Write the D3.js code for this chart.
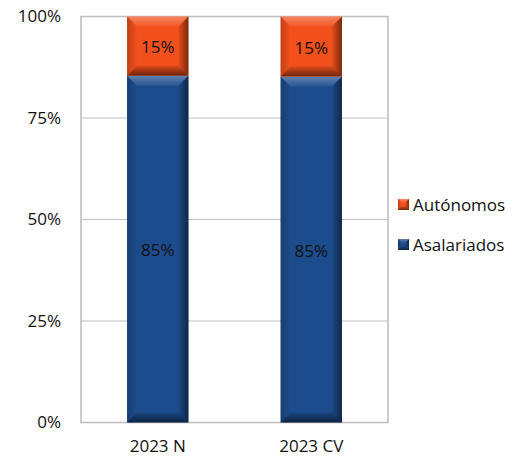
<!DOCTYPE html>
<html><head><meta charset="utf-8">
<script src="https://cdn.jsdelivr.net/npm/d3@7"></script>
<style>body{margin:0;background:#fff}svg{display:block}text{font-family:"Open Sans","Noto Sans",sans-serif}</style>
</head><body>
<svg id="c" width="521" height="464"></svg>
<script>
const categories = ["2023 N", "2023 CV"];
const asalariados = [0.854, 0.852];
const autonomos = [0.146, 0.148];
const seriesNames = ["Asalariados", "Autónomos"];
const seriesColors = ["#1D4C8C", "#F2501C"];
const yTicks = [0, 0.25, 0.5, 0.75, 1];

const svg = d3.select("#c");
const defs = svg.append("defs");
const gradSpec = [
  {id: "gT", x1: 0, y1: 0, x2: 0, y2: 1, c: "#fff", o0: 0.3, o1: 0.05},
  {id: "gB", x1: 0, y1: 1, x2: 0, y2: 0, c: "#000", o0: 0.55, o1: 0.1},
  {id: "gL", x1: 0, y1: 0, x2: 1, y2: 0, c: "#000", o0: 0.2, o1: 0.0},
  {id: "gR", x1: 1, y1: 0, x2: 0, y2: 0, c: "#000", o0: 0.5, o1: 0.05}
];
gradSpec.forEach(g => {
  const lg = defs.append("linearGradient").attr("id", g.id)
    .attr("x1", g.x1).attr("y1", g.y1).attr("x2", g.x2).attr("y2", g.y2);
  lg.append("stop").attr("offset", 0).attr("stop-color", g.c).attr("stop-opacity", g.o0);
  lg.append("stop").attr("offset", 1).attr("stop-color", g.c).attr("stop-opacity", g.o1);
});

const m = {l: 81, r: 388, t: 16.5, b: 422.5};
const x = d3.scaleBand().domain(categories).range([m.l, m.r]).paddingInner(0.6).paddingOuter(0.3);
const y = d3.scaleLinear().domain([0, 1]).range([m.b, m.t]);

svg.append("g").selectAll("line").data(yTicks).join("line")
  .attr("x1", m.l).attr("x2", m.r).attr("y1", d => y(d)).attr("y2", d => y(d))
  .attr("stroke", "#C0C0C0").attr("stroke-width", 1.2);
svg.append("rect").attr("x", m.l).attr("y", m.t).attr("width", m.r - m.l).attr("height", m.b - m.t)
  .attr("fill", "none").attr("stroke", "#BFBFBF").attr("stroke-width", 1.6);

const yAxis = d3.axisLeft(y).tickValues(yTicks).tickFormat(d3.format(".0%")).tickSize(0).tickPadding(20);
const ga = svg.append("g").attr("transform", `translate(${m.l},0)`).call(yAxis);
ga.select(".domain").remove();
ga.selectAll("text").attr("font-size", 17).attr("fill", "#111").style("font-family", '"Open Sans",sans-serif');

const xAxis = d3.axisBottom(x).tickSize(0).tickPadding(17);
const gx = svg.append("g").attr("transform", `translate(0,${m.b})`).call(xAxis);
gx.select(".domain").remove();
gx.selectAll("text").attr("font-size", 17).attr("fill", "#111").style("font-family", '"Open Sans",sans-serif');

const stackData = categories.map((c, i) => ({cat: c, Asalariados: asalariados[i], "Autónomos": autonomos[i]}));
const stack = d3.stack().keys(seriesNames)(stackData);

function bevel(g, x0, y0, w, h, color, bmax) {
  const b = Math.min(bmax, h / 3);
  g.append("rect").attr("x", x0).attr("y", y0).attr("width", w).attr("height", h).attr("fill", color);
  const x1 = x0 + w, y1 = y0 + h;
  const polys = [
    {p: [[x0, y0], [x1, y0], [x1 - b, y0 + b], [x0 + b, y0 + b]], f: "url(#gT)"},
    {p: [[x0, y1], [x1, y1], [x1 - b, y1 - b], [x0 + b, y1 - b]], f: "url(#gB)"},
    {p: [[x0, y0], [x0 + b, y0 + b], [x0 + b, y1 - b], [x0, y1]], f: "url(#gL)"},
    {p: [[x1, y0], [x1 - b, y0 + b], [x1 - b, y1 - b], [x1, y1]], f: "url(#gR)"}
  ];
  polys.forEach(q => g.append("polygon").attr("points", q.p.map(d => d.join(",")).join(" ")).attr("fill", q.f));
}

stack.forEach((s, si) => {
  s.forEach(d => {
    const x0 = x(d.data.cat), w = x.bandwidth();
    const yt = y(d[1]), yb = y(d[0]);
    bevel(svg.append("g"), x0, yt, w, yb - yt, seriesColors[si], 10);
    svg.append("text").attr("x", x0 + w / 2).attr("y", (yt + yb) / 2 + 7)
      .attr("text-anchor", "middle").attr("font-size", 17).attr("fill", "#111")
      .text(d3.format(".0%")(d[1] - d[0]));
  });
});

const legendItems = [{name: "Autónomos", color: seriesColors[1]}, {name: "Asalariados", color: seriesColors[0]}];
const lg = svg.append("g").selectAll("g").data(legendItems).join("g")
  .attr("transform", (d, i) => `translate(398,${199 + i * 40})`);
lg.each(function(d) { bevel(d3.select(this), 0, 0, 11, 11, d.color, 4); });
lg.append("text").attr("x", 15).attr("y", 12).attr("font-size", 17).attr("fill", "#111").text(d => d.name);
</script>
</body></html>
